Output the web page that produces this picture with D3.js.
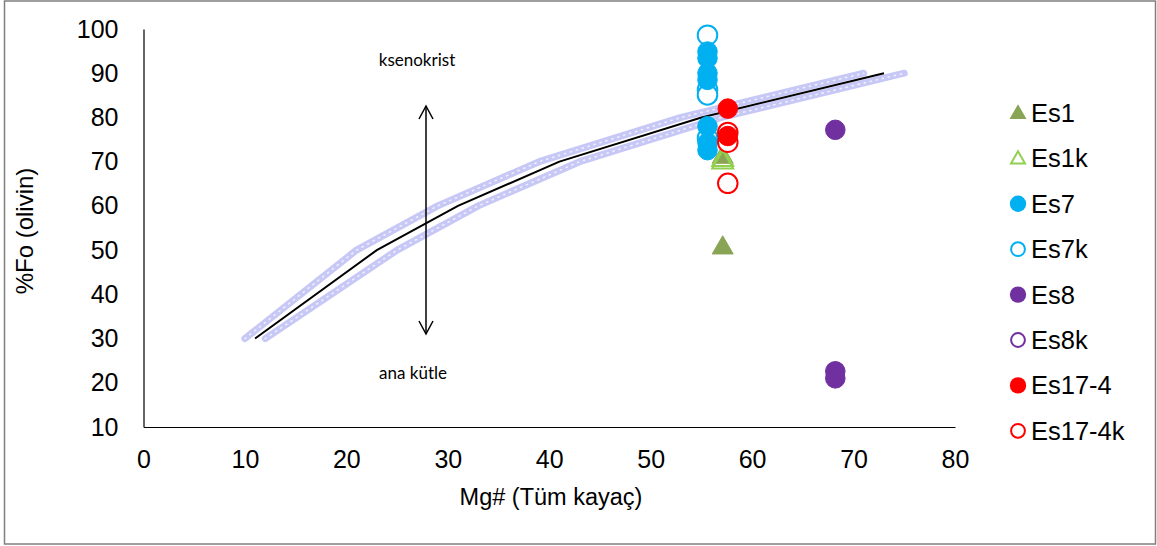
<!DOCTYPE html>
<html><head><meta charset="utf-8">
<script src="https://cdn.jsdelivr.net/npm/d3@7"></script>
<style>body{margin:0;background:#fff}svg{display:block}</style>
</head><body>
<svg id="c" width="1157" height="546"></svg>
<script>
// ---- data ----
const xTicks = [0,10,20,30,40,50,60,70,80];
const yTicks = [10,20,30,40,50,60,70,80,90,100];
const curveX = [11,23,31,41,55,73];
const curveY = [30,50,60,70,80,90];
const upperX = [10,21,29,39,53,71];
const upperY = [30,50,60,70,80,90];
const lowerX = [12,25,33,43,57,75];
const lowerY = [30,50,60,70,80,90];
const seriesNames = ["Es1","Es1k","Es7","Es7k","Es8","Es8k","Es17-4","Es17-4k"];
const es1  = [[57.1,71.0],[57.1,50.5]];
const es1k = [[57.1,70.4],[57.1,69.8]];
const es7  = [[55.6,94.9],[55.6,93.4],[55.6,90.0],[55.6,88.5],[55.6,78.0],[55.6,74.3],[55.6,72.6]];
const es7k = [[55.6,98.6],[55.6,86.3],[55.6,85.1],[55.6,75.4]];
const es8  = [[68.2,77.2],[68.2,22.6],[68.2,21.0]];
const es8k = [];
const es174  = [[57.6,82.0],[57.6,75.8]];
const es174k = [[57.6,76.6],[57.6,74.4],[57.6,65.1]];
const annotTop = "ksenokrist", annotBottom = "ana kütle";

const svg = d3.select("#c");
const x = d3.scaleLinear().domain([0,80]).range([143.5,955]);
const y = d3.scaleLinear().domain([10,100]).range([427,29]);
const FONT = "Liberation Sans, Arial, sans-serif";

svg.append("rect").attr("x",4.5).attr("y",1).attr("width",1151).attr("height",543)
  .attr("fill","#fff").attr("stroke","#7f7f7f").attr("stroke-width",1.5);

// axes
const yAxis = d3.axisLeft(y).tickValues(yTicks).tickSize(0).tickPadding(25);
const ga = svg.append("g").attr("transform","translate(143.5,0)").call(yAxis);
const xAxis = d3.axisBottom(x).tickValues(xTicks).tickSize(0).tickPadding(23);
const gx = svg.append("g").attr("transform","translate(0,427)").call(xAxis);
[ga,gx].forEach(g=>{
  g.select(".domain").attr("stroke","#000").attr("stroke-width",1.2);
  g.selectAll("text").attr("font-family",FONT).attr("font-size",25).attr("fill","#000");
});

svg.append("text").attr("x",551).attr("y",505).attr("text-anchor","middle")
  .attr("font-family",FONT).attr("font-size",23.5).text("Mg# (Tüm kayaç)");
svg.append("text").attr("transform","translate(33,231) rotate(-90)").attr("text-anchor","middle")
  .attr("font-family",FONT).attr("font-size",24).text("%Fo (olivin)");

// bands
const line = d3.line().x(d=>x(d[0])).y(d=>y(d[1]));
[[upperX,upperY],[lowerX,lowerY]].forEach(([xs,ys])=>{
  const pts = xs.map((v,i)=>[v,ys[i]]);
  svg.append("path").attr("d",line(pts)).attr("fill","none").attr("stroke","#c8c8f6")
    .attr("stroke-width",7).attr("stroke-linecap","round").attr("stroke-linejoin","round");
  svg.append("path").attr("d",line(pts)).attr("fill","none").attr("stroke","#fff").attr("stroke-opacity",0.7)
    .attr("stroke-width",1.6).attr("stroke-dasharray","1.2 5").attr("stroke-linecap","round");
});
svg.append("path").attr("d",line(curveX.map((v,i)=>[v,curveY[i]]))).attr("fill","none")
  .attr("stroke","#000").attr("stroke-width",2);

// arrow
const ax = 426;
svg.append("line").attr("x1",ax).attr("x2",ax).attr("y1",106).attr("y2",334).attr("stroke","#000").attr("stroke-width",1.5);
svg.append("path").attr("d",`M${ax-7},${106+13}L${ax},106L${ax+7},${106+13}`).attr("fill","none").attr("stroke","#000").attr("stroke-width",1.5);
svg.append("path").attr("d",`M${ax-7},${334-13}L${ax},334L${ax+7},${334-13}`).attr("fill","none").attr("stroke","#000").attr("stroke-width",1.5);
svg.append("text").attr("x",417).attr("y",66).attr("text-anchor","middle").attr("font-family","Lato, sans-serif").attr("font-size",17).text(annotTop);
svg.append("text").attr("x",413).attr("y",379).attr("text-anchor","middle").attr("font-family","Lato, sans-serif").attr("font-size",17).text(annotBottom);

// markers
const styles = [
  {data:es1, shape:"tri", fill:"#8aa455", stroke:"#8aa455", sw:1},
  {data:es1k, shape:"tri", fill:"none", stroke:"#92d050", sw:2},
  {data:es7, shape:"circ", fill:"#00b0f0", stroke:"#00b0f0", sw:1},
  {data:es7k, shape:"circ", fill:"#fff", stroke:"#00b0f0", sw:2},
  {data:es8, shape:"circ", fill:"#7030a0", stroke:"#7030a0", sw:1},
  {data:es8k, shape:"circ", fill:"#fff", stroke:"#7030a0", sw:2},
  {data:es174, shape:"circ", fill:"#ff0000", stroke:"#ff0000", sw:1},
  {data:es174k, shape:"circ", fill:"#fff", stroke:"#ff0000", sw:2},
];
const order = [3,2,0,1,5,4,7,6];
order.forEach(i=>{
  const s = styles[i];
  const sym = d3.symbol().type(s.shape==="tri"?d3.symbolTriangle:d3.symbolCircle).size(s.shape==="tri"?190:300);
  svg.append("g").selectAll("path").data(s.data).join("path")
    .attr("transform",d=>`translate(${x(d[0])},${y(d[1])})`)
    .attr("d",sym()).attr("fill",s.fill).attr("stroke",s.stroke).attr("stroke-width",s.sw);
});

// legend
seriesNames.forEach((n,i)=>{
  const s = styles[i];
  const ly = 113 + i*45.4;
  const hollow = s.fill==="#fff"||s.fill==="none";
  const sym = d3.symbol().type(s.shape==="tri"?d3.symbolTriangle:d3.symbolCircle)
    .size(s.shape==="tri"?(hollow?85:125):(hollow?150:210));
  svg.append("path").attr("transform",`translate(1018,${ly+(s.shape==="tri"?1:0)})`).attr("d",sym())
    .attr("fill",s.fill).attr("stroke",s.stroke).attr("stroke-width",hollow?2:0);
  svg.append("text").attr("x",1031).attr("y",ly+9).attr("font-family",FONT)
    .attr("font-size",25.5).text(n);
});
</script>
</body></html>
